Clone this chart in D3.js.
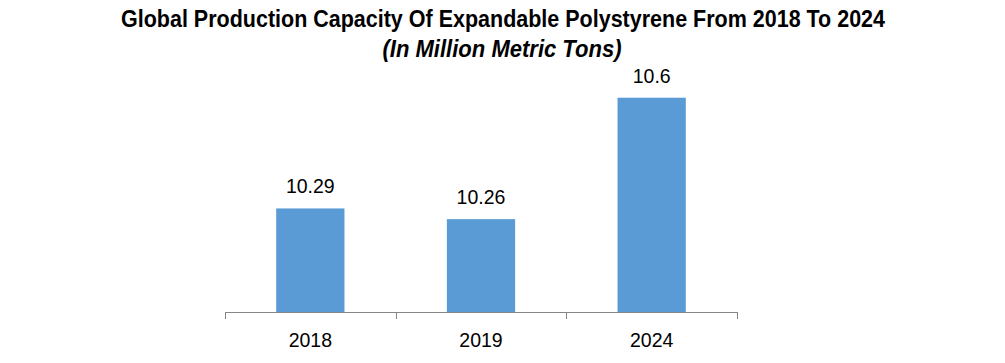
<!DOCTYPE html>
<html><head><meta charset="utf-8">
<script src="https://cdn.jsdelivr.net/npm/d3@7"></script>
<style>body{margin:0;background:#fff}svg{display:block}</style>
</head><body>
<script>
const categories = ["2018", "2019", "2024"];
const values = [10.29, 10.26, 10.6];
const valueLabels = ["10.29", "10.26", "10.6"];
const title = "Global Production Capacity Of Expandable Polystyrene From 2018 To 2024";
const subtitle = "(In Million Metric Tons)";

const W = 1005, H = 363;
const svg = d3.select("body").append("svg").attr("width", W).attr("height", H);
const fontFam = "'Liberation Sans Narrow','Liberation Sans',Arial,sans-serif";

const x = d3.scaleBand().domain(categories).range([225, 737]).paddingInner(0.6).paddingOuter(0.3);
const y = d3.scaleLinear().domain([10, 10.7]).range([312, 62]);

svg.append("text").attr("x", 503).attr("y", 27).attr("text-anchor", "middle")
  .attr("font-family", fontFam).attr("font-weight", "bold").attr("font-size", 23)
  .attr("textLength", 764).attr("lengthAdjust", "spacingAndGlyphs").text(title);
svg.append("text").attr("x", 502).attr("y", 57).attr("text-anchor", "middle")
  .attr("font-family", fontFam).attr("font-weight", "bold").attr("font-style", "italic").attr("font-size", 23)
  .attr("textLength", 239).attr("lengthAdjust", "spacingAndGlyphs").text(subtitle);

svg.selectAll("rect.bar").data(values).join("rect").attr("class", "bar")
  .attr("x", (d, i) => x(categories[i])).attr("width", x.bandwidth())
  .attr("y", d => y(d)).attr("height", d => y(10) - y(d)).attr("fill", "#5B9BD5");

svg.selectAll("text.val").data(values).join("text").attr("class", "val")
  .attr("x", (d, i) => x(categories[i]) + x.bandwidth() / 2).attr("y", d => y(d) - 15)
  .attr("text-anchor", "middle").attr("font-family", "'Liberation Sans',Arial,sans-serif")
  .attr("font-size", 19.5).attr("fill", "#000").text((d, i) => valueLabels[i]);

// axis
const ax = svg.append("g");
ax.append("line").attr("x1", 225).attr("x2", 737).attr("y1", 312.5).attr("y2", 312.5).attr("stroke", "#868686");
const edges = categories.map(c => x(c) - x.step() * x.paddingInner() / 2).concat([737]);
edges[0] = 225;
ax.selectAll("line.tk").data(edges).join("line").attr("class", "tk")
  .attr("x1", d => Math.round(d) + 0.5).attr("x2", d => Math.round(d) + 0.5).attr("y1", 312).attr("y2", 319).attr("stroke", "#868686");
ax.selectAll("text.cat").data(categories).join("text").attr("class", "cat")
  .attr("x", c => x(c) + x.bandwidth() / 2).attr("y", 347).attr("text-anchor", "middle")
  .attr("font-family", "'Liberation Sans',Arial,sans-serif").attr("font-size", 19.5).attr("fill", "#000").text(c => c);
</script>
</body></html>
